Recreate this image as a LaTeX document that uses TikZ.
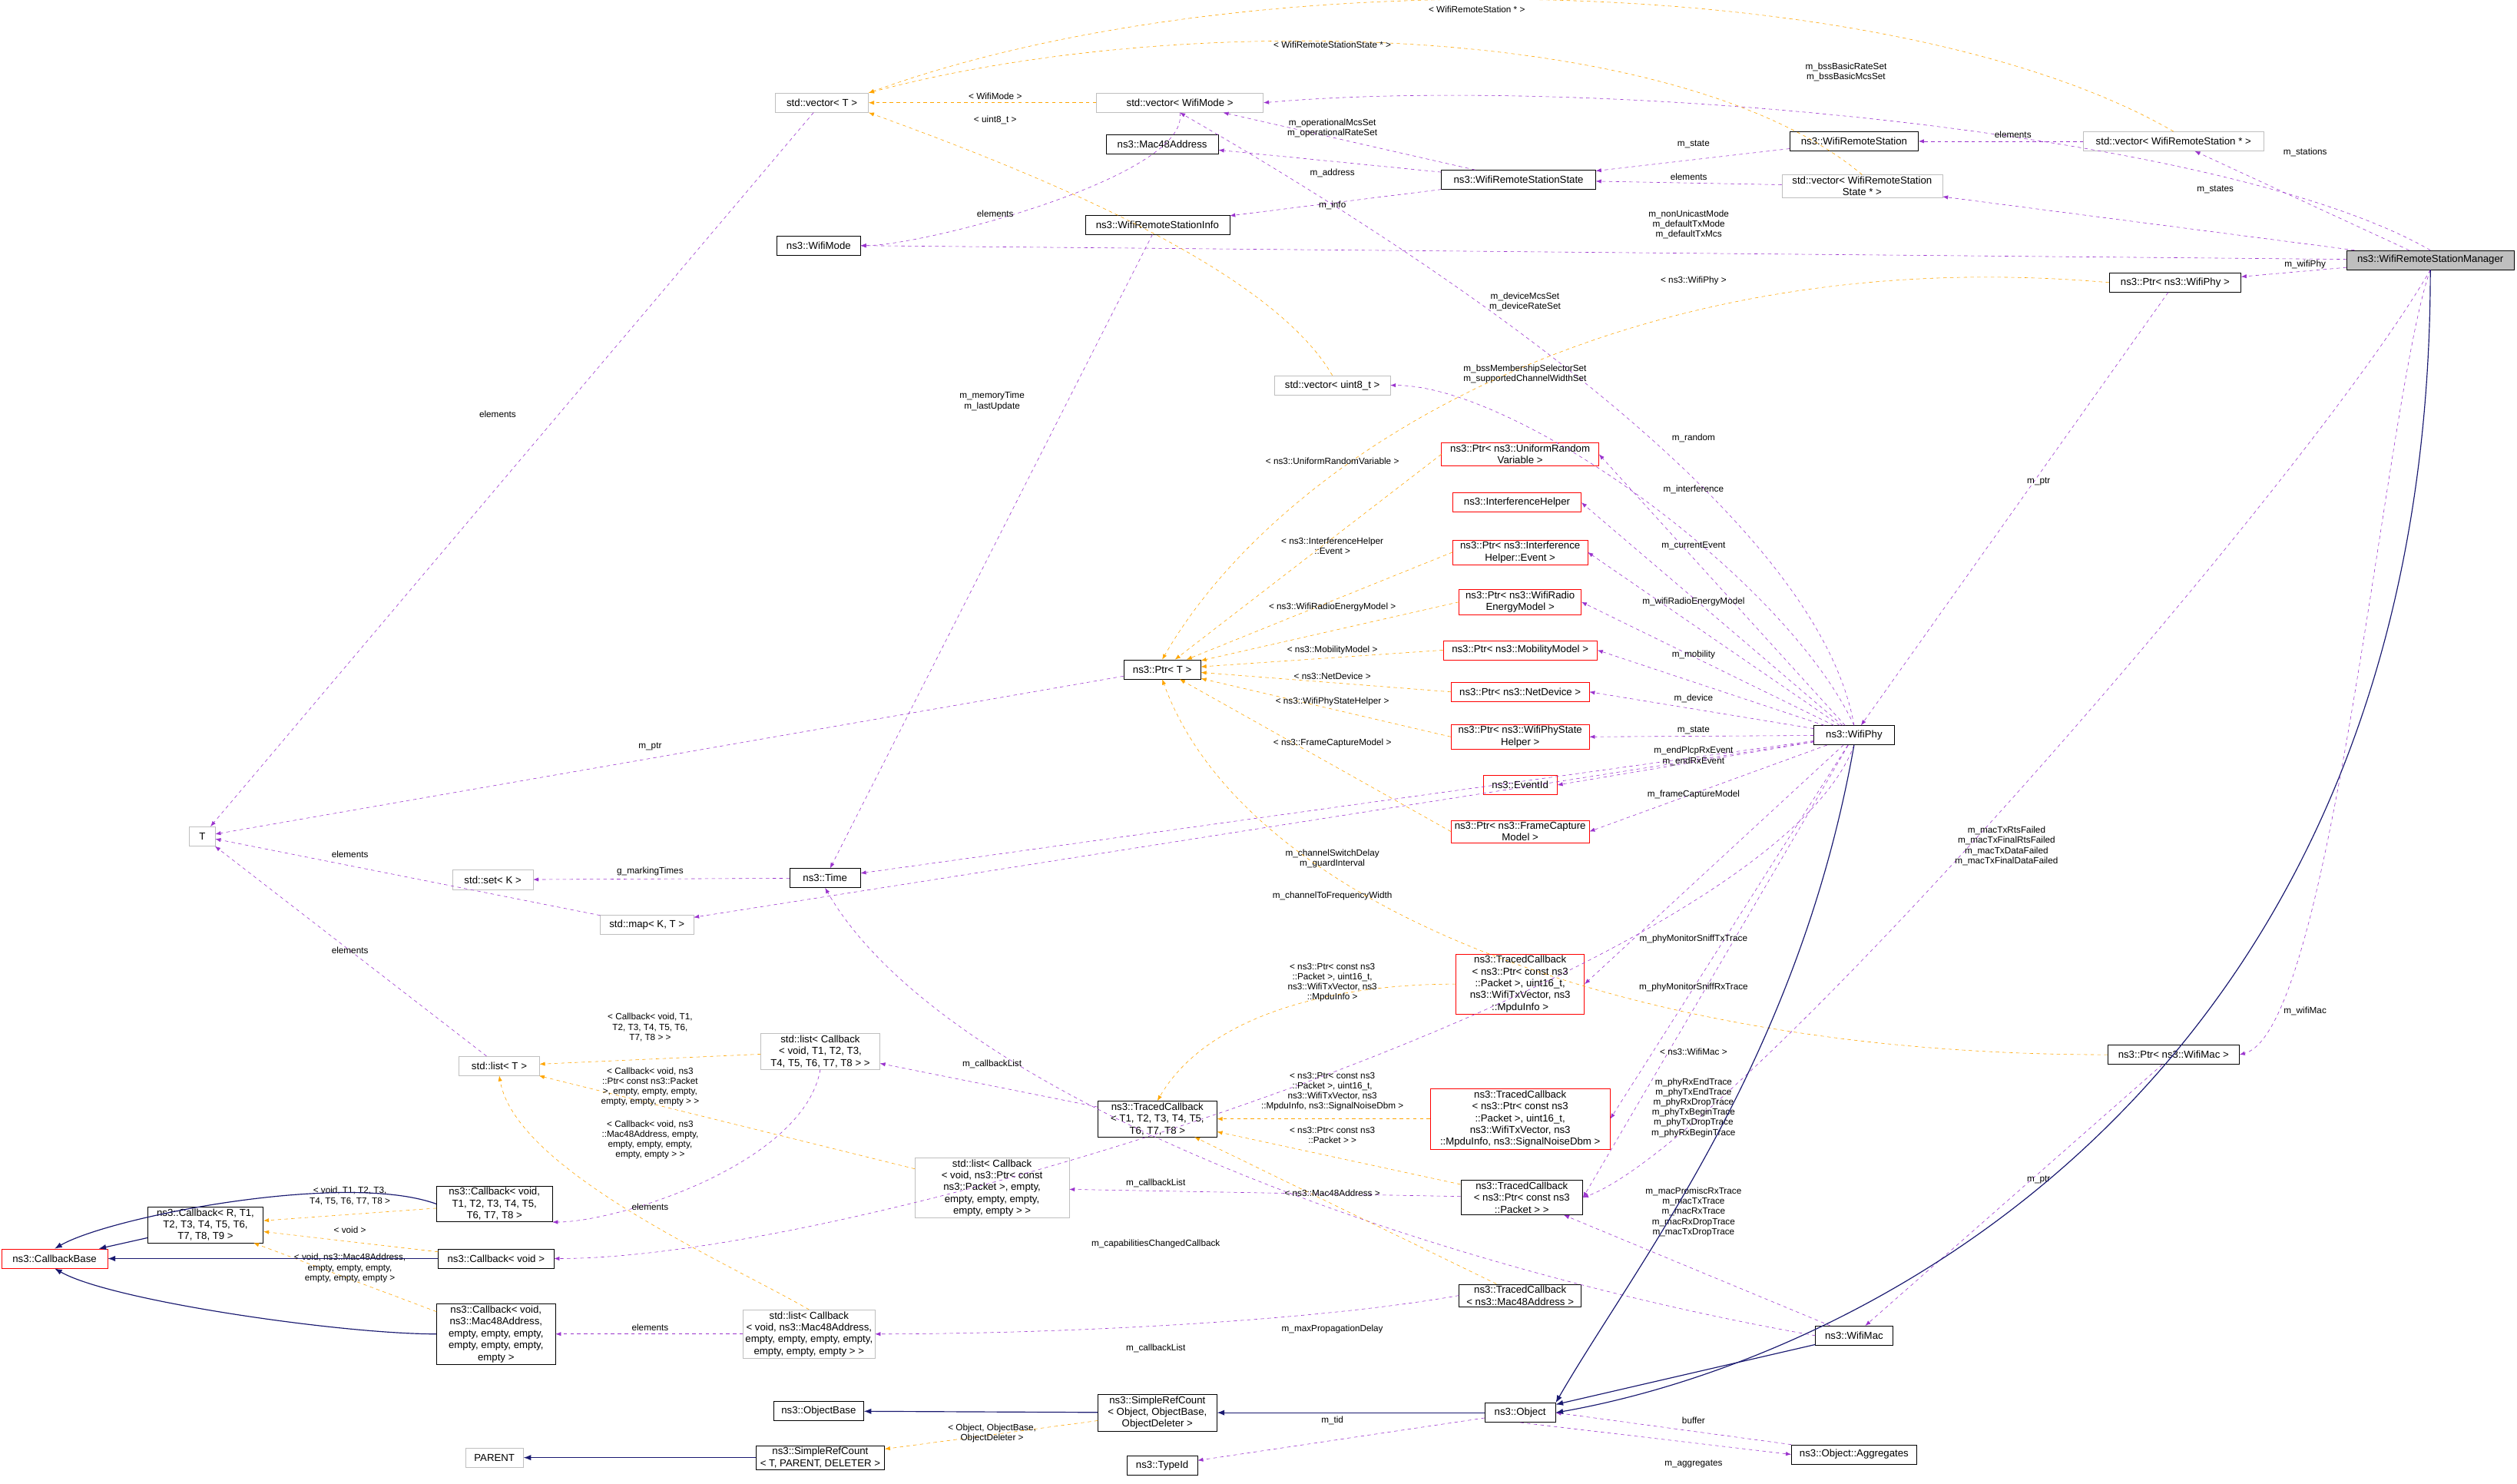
\documentclass[tikz,border=0pt]{standalone}
\usepackage{fontspec}
\setmainfont{Liberation Sans}
\usetikzlibrary{arrows.meta}
\definecolor{usecol}{RGB}{154,50,205}
\definecolor{tplcol}{RGB}{255,165,0}
\definecolor{inhcol}{RGB}{25,25,112}
\definecolor{extcol}{RGB}{191,191,191}
\begin{document}
\begin{tikzpicture}[x=0.5mm, y=-0.5mm, >=Latex, font=\fontsize{9}{10.5}\selectfont,
    box/.style={draw, align=center, inner sep=1.5pt, minimum height=6mm},
    cls/.style={box, draw=black},
    ext/.style={box, draw=extcol},
    bad/.style={box, draw=red},
    self/.style={box, draw=black, fill=extcol},
    use/.style={->, dashed, usecol},
    tpl/.style={->, dashed, tplcol},
    inh/.style={->, inhcol, thick},
    lbl/.style={align=center, inner sep=0.5pt, font=\fontsize{8}{9}\selectfont}]
    \useasboundingbox (0,0) rectangle (1568,924);

    % classes
    \node[self, minimum width=52mm] (mgr) at (1514,162) {ns3::WifiRemoteStationManager};
    \node[ext, minimum width=29mm] (vecT) at (512,64) {std::vector< T >};
    \node[ext, minimum width=52mm] (vecMode) at (735,64) {std::vector< WifiMode >};
    \node[cls, minimum width=35mm] (mac48) at (724,90) {ns3::Mac48Address};
    \node[cls, minimum width=40mm] (rss) at (1155,88) {ns3::WifiRemoteStation};
    \node[ext, minimum width=56mm] (vecRS) at (1354,88) {std::vector< WifiRemoteStation * >};
    \node[cls, minimum width=48mm] (rsstate) at (946,112) {ns3::WifiRemoteStationState};
    \node[ext, minimum width=50mm] (vecRSS) at (1160,116) {std::vector< WifiRemoteStation\\State * >};
    \node[cls, minimum width=45mm] (rsinfo) at (721,140) {ns3::WifiRemoteStationInfo};
    \node[cls, minimum width=26mm] (wifimode) at (510,153) {ns3::WifiMode};
    \node[cls, minimum width=41mm] (ptrPhy) at (1355,176) {ns3::Ptr< ns3::WifiPhy >};
    \node[ext, minimum width=36mm] (vecU8) at (830,240) {std::vector< uint8\_t >};
    \node[bad, minimum width=49mm] (ptrURV) at (947,283) {ns3::Ptr< ns3::UniformRandom\\Variable >};
    \node[bad, minimum width=40mm] (intHelper) at (945,313) {ns3::InterferenceHelper};
    \node[bad, minimum width=42mm] (ptrEvent) at (947,344) {ns3::Ptr< ns3::Interference\\Helper::Event >};
    \node[bad, minimum width=38mm] (ptrEnergy) at (947,375) {ns3::Ptr< ns3::WifiRadio\\EnergyModel >};
    \node[bad, minimum width=48mm] (ptrMob) at (947,405) {ns3::Ptr< ns3::MobilityModel >};
    \node[bad, minimum width=43mm] (ptrNet) at (947,431) {ns3::Ptr< ns3::NetDevice >};
    \node[bad, minimum width=43mm] (ptrState) at (947,459) {ns3::Ptr< ns3::WifiPhyState\\Helper >};
    \node[bad, minimum width=23mm] (eventid) at (947,489) {ns3::EventId};
    \node[bad, minimum width=43mm] (ptrFCM) at (947,518) {ns3::Ptr< ns3::FrameCapture\\Model >};
    \node[cls, minimum width=24mm] (ptrT) at (724,417) {ns3::Ptr< T >};
    \node[cls, minimum width=25mm] (wifiphy) at (1155,458) {ns3::WifiPhy};
    \node[ext, minimum width=8mm] (T) at (126,521) {T};
    \node[ext, minimum width=25mm] (setK) at (307,548) {std::set< K >};
    \node[cls, minimum width=22mm] (time) at (514,547) {ns3::Time};
    \node[ext, minimum width=29mm] (mapKT) at (403,576) {std::map< K, T >};
    \node[bad, minimum width=40mm] (tcPhyTx) at (947,613) {ns3::TracedCallback\\< ns3::Ptr< const ns3\\::Packet >, uint16\_t,\\ns3::WifiTxVector, ns3\\::MpduInfo >};
    \node[bad, minimum width=56mm] (tcPhyRx) at (947,697) {ns3::TracedCallback\\< ns3::Ptr< const ns3\\::Packet >, uint16\_t,\\ns3::WifiTxVector, ns3\\::MpduInfo, ns3::SignalNoiseDbm >};
    \node[ext, minimum width=25mm] (listT) at (311,664) {std::list< T >};
    \node[ext, minimum width=37mm] (listCb1) at (511,655) {std::list< Callback\\< void, T1, T2, T3,\\T4, T5, T6, T7, T8 > >};
    \node[cls, minimum width=37mm] (tcT) at (721,697) {ns3::TracedCallback\\< T1, T2, T3, T4, T5,\\T6, T7, T8 >};
    \node[ext, minimum width=48mm] (listCb2) at (618,740) {std::list< Callback\\< void, ns3::Ptr< const\\ns3::Packet >, empty,\\empty, empty, empty,\\empty, empty > >};
    \node[cls, minimum width=38mm] (tcPkt) at (948,746) {ns3::TracedCallback\\< ns3::Ptr< const ns3\\::Packet > >};
    \node[cls, minimum width=36mm] (cbVoidT) at (308,750) {ns3::Callback< void,\\T1, T2, T3, T4, T5,\\T6, T7, T8 >};
    \node[cls, minimum width=36mm] (cbR) at (128,763) {ns3::Callback< R, T1,\\T2, T3, T4, T5, T6,\\T7, T8, T9 >};
    \node[bad, minimum width=33mm] (cbBase) at (34,784) {ns3::CallbackBase};
    \node[cls, minimum width=36mm] (cbVoid) at (309,784) {ns3::Callback< void >};
    \node[cls, minimum width=37mm] (cbMac) at (309,831) {ns3::Callback< void,\\ns3::Mac48Address,\\empty, empty, empty,\\empty, empty, empty,\\empty >};
    \node[ext, minimum width=41mm] (listCb3) at (504,831) {std::list< Callback\\< void, ns3::Mac48Address,\\empty, empty, empty, empty,\\empty, empty, empty > >};
    \node[cls, minimum width=38mm] (tcMac) at (947,807) {ns3::TracedCallback\\< ns3::Mac48Address >};
    \node[cls, minimum width=24mm] (wifimac) at (1155,832) {ns3::WifiMac};
    \node[cls, minimum width=41mm] (ptrMac) at (1354,657) {ns3::Ptr< ns3::WifiMac >};
    \node[cls, minimum width=28mm] (objBase) at (510,879) {ns3::ObjectBase};
    \node[cls, minimum width=37mm] (srcObj) at (721,880) {ns3::SimpleRefCount\\< Object, ObjectBase,\\ObjectDeleter >};
    \node[cls, minimum width=22mm] (object) at (947,880) {ns3::Object};
    \node[cls, minimum width=39mm] (aggr) at (1155,906) {ns3::Object::Aggregates};
    \node[ext, minimum width=18mm] (parent) at (308,908) {PARENT};
    \node[cls, minimum width=40mm] (srcT) at (511,908) {ns3::SimpleRefCount\\< T, PARENT, DELETER >};
    \node[cls, minimum width=22mm] (typeid) at (724,913) {ns3::TypeId};

    % members
    \draw[use] (mgr) -- (vecRS);
    \draw[use] (mgr) -- (vecRSS);
    \draw[use] (mgr) -- (wifimode.east);
    \draw[use] (mgr.north) .. controls +(-150:150) and +(-5:200) .. (vecMode.east);
    \draw[use] (mgr) -- (ptrPhy);
    \draw[use] (mgr.south) .. controls +(110:80) and +(-15:60) .. (ptrMac.east);
    \draw[use] (mgr.south) .. controls +(120:150) and +(-20:100) .. (tcPkt.east);
    \draw[use] (vecRS) -- (rss);
    \draw[use] (vecRSS) -- (rsstate);
    \draw[use] (rss) -- (rsstate);
    \draw[use] (rsstate) -- (vecMode);
    \draw[use] (rsstate) -- (mac48);
    \draw[use] (rsstate) -- (rsinfo);
    \draw[use] (vecMode.south) .. controls +(80:40) and +(0:40) .. (wifimode.east);
    \draw[use] (vecT) -- (T);
    \draw[use] (rsinfo) -- (time);
    \draw[use] (ptrPhy) -- (wifiphy);
    \draw[use] (wifiphy.north) .. controls +(-100:150) and +(30:120) .. (vecMode.south);
    \draw[use] (wifiphy.north) .. controls +(-115:100) and +(0:80) .. (vecU8.east);
    \foreach \m in {ptrURV, intHelper, ptrEvent, ptrEnergy, ptrMob, ptrNet, ptrState, eventid, ptrFCM, tcPhyTx, tcPhyRx, tcPkt}
        \draw[use] (wifiphy) -- (\m.east);
    \draw[use] (wifiphy) -- (time);
    \draw[use] (wifiphy) -- (mapKT);
    \draw[use] (wifiphy.south) .. controls +(110:150) and +(0:200) .. (cbVoid.east);
    \draw[use] (wifimac) -- (tcPkt);
    \draw[use] (wifimac.west) .. controls +(-170:250) and +(60:150) .. (time.south);
    \draw[use] (ptrMac) -- (wifimac);
    \draw[use] (ptrT) -- (T);
    \draw[use] (time) -- (setK);
    \draw[use] (mapKT) -- (T);
    \draw[use] (listT) -- (T);
    \draw[use] (listCb1.south) .. controls +(100:60) and +(0:40) .. (cbVoidT.south east);
    \draw[use] (tcT) -- (listCb1);
    \draw[use] (tcPkt) -- (listCb2);
    \draw[use] (tcMac.west) .. controls +(170:100) and +(0:100) .. (listCb3.east);
    \draw[use] (listCb3) -- (cbMac);
    \draw[use] (object) -- (typeid);
    \draw[use] (object.south) -- (aggr.west);
    \draw[use] (aggr.north west) -- (object.east);
    \node[lbl] at (1436,95) {m\_stations};
    \node[lbl] at (1380,118) {m\_states};
    \node[lbl] at (1052,140) {m\_nonUnicastMode\\m\_defaultTxMode\\m\_defaultTxMcs};
    \node[lbl] at (1150,45) {m\_bssBasicRateSet\\m\_bssBasicMcsSet};
    \node[lbl] at (1436,165) {m\_wifiPhy};
    \node[lbl] at (1436,630) {m\_wifiMac};
    \node[lbl] at (1250,527) {m\_macTxRtsFailed\\m\_macTxFinalRtsFailed\\m\_macTxDataFailed\\m\_macTxFinalDataFailed};
    \node[lbl] at (1254,84) {elements};
    \node[lbl] at (1052,110) {elements};
    \node[lbl] at (1055,90) {m\_state};
    \node[lbl] at (830,80) {m\_operationalMcsSet\\m\_operationalRateSet};
    \node[lbl] at (830,108) {m\_address};
    \node[lbl] at (830,128) {m\_info};
    \node[lbl] at (620,133) {elements};
    \node[lbl] at (310,258) {elements};
    \node[lbl] at (618,250) {m\_memoryTime\\m\_lastUpdate};
    \node[lbl] at (1270,300) {m\_ptr};
    \node[lbl] at (950,188) {m\_deviceMcsSet\\m\_deviceRateSet};
    \node[lbl] at (950,233) {m\_bssMembershipSelectorSet\\m\_supportedChannelWidthSet};
    \node[lbl] at (1055,273) {m\_random};
    \node[lbl] at (1055,305) {m\_interference};
    \node[lbl] at (1055,340) {m\_currentEvent};
    \node[lbl] at (1055,375) {m\_wifiRadioEnergyModel};
    \node[lbl] at (1055,408) {m\_mobility};
    \node[lbl] at (1055,435) {m\_device};
    \node[lbl] at (1055,455) {m\_state};
    \node[lbl] at (1055,471) {m\_endPlcpRxEvent\\m\_endRxEvent};
    \node[lbl] at (1055,495) {m\_frameCaptureModel};
    \node[lbl] at (830,535) {m\_channelSwitchDelay\\m\_guardInterval};
    \node[lbl] at (830,558) {m\_channelToFrequencyWidth};
    \node[lbl] at (1055,585) {m\_phyMonitorSniffTxTrace};
    \node[lbl] at (1055,615) {m\_phyMonitorSniffRxTrace};
    \node[lbl] at (1055,690) {m\_phyRxEndTrace\\m\_phyTxEndTrace\\m\_phyRxDropTrace\\m\_phyTxBeginTrace\\m\_phyTxDropTrace\\m\_phyRxBeginTrace};
    \node[lbl] at (720,775) {m\_capabilitiesChangedCallback};
    \node[lbl] at (1055,755) {m\_macPromiscRxTrace\\m\_macTxTrace\\m\_macRxTrace\\m\_macRxDropTrace\\m\_macTxDropTrace};
    \node[lbl] at (830,828) {m\_maxPropagationDelay};
    \node[lbl] at (1270,735) {m\_ptr};
    \node[lbl] at (405,465) {m\_ptr};
    \node[lbl] at (405,543) {g\_markingTimes};
    \node[lbl] at (218,532) {elements};
    \node[lbl] at (218,592) {elements};
    \node[lbl] at (405,752) {elements};
    \node[lbl] at (618,663) {m\_callbackList};
    \node[lbl] at (720,737) {m\_callbackList};
    \node[lbl] at (720,840) {m\_callbackList};
    \node[lbl] at (405,827) {elements};
    \node[lbl] at (830,885) {m\_tid};
    \node[lbl] at (1055,912) {m\_aggregates};
    \node[lbl] at (1055,885) {buffer};

    % template instances
    \draw[tpl] (vecMode) -- (vecT);
    \draw[tpl] (vecRS.north) .. controls +(-150:200) and +(-20:250) .. (vecT.north east);
    \draw[tpl] (vecRSS.north) .. controls +(-140:150) and +(-15:200) .. (vecT.north east);
    \draw[tpl] (vecU8.north) .. controls +(-120:80) and +(20:100) .. (vecT.south east);
    \draw[tpl] (ptrPhy.west) .. controls +(-175:300) and +(-60:150) .. (ptrT.north);
    \foreach \m in {ptrURV, ptrEvent, ptrEnergy, ptrMob, ptrNet, ptrState, ptrFCM}
        \draw[tpl] (\m.west) -- (ptrT);
    \draw[tpl] (ptrMac.west) .. controls +(180:300) and +(70:150) .. (ptrT.south);
    \draw[tpl] (tcPhyTx.west) .. controls +(180:80) and +(-60:60) .. (tcT.north);
    \draw[tpl] (tcPhyRx) -- (tcT);
    \draw[tpl] (tcPkt) -- (tcT);
    \draw[tpl] (tcMac) -- (tcT);
    \draw[tpl] (listCb1) -- (listT);
    \draw[tpl] (listCb2) -- (listT);
    \draw[tpl] (listCb3.north) .. controls +(-150:60) and +(80:60) .. (listT.south);
    \draw[tpl] (cbVoidT) -- (cbR);
    \draw[tpl] (cbVoid) -- (cbR);
    \draw[tpl] (cbMac) -- (cbR);
    \draw[tpl] (srcObj) -- (srcT);
    \node[lbl] at (620,60) {< WifiMode >};
    \node[lbl] at (920,6) {< WifiRemoteStation * >};
    \node[lbl] at (830,28) {< WifiRemoteStationState * >};
    \node[lbl] at (620,75) {< uint8\_t >};
    \node[lbl] at (1055,175) {< ns3::WifiPhy >};
    \node[lbl] at (830,287) {< ns3::UniformRandomVariable >};
    \node[lbl] at (830,340) {< ns3::InterferenceHelper\\::Event >};
    \node[lbl] at (830,378) {< ns3::WifiRadioEnergyModel >};
    \node[lbl] at (830,405) {< ns3::MobilityModel >};
    \node[lbl] at (830,421) {< ns3::NetDevice >};
    \node[lbl] at (830,437) {< ns3::WifiPhyStateHelper >};
    \node[lbl] at (830,463) {< ns3::FrameCaptureModel >};
    \node[lbl] at (1055,655) {< ns3::WifiMac >};
    \node[lbl] at (830,612) {< ns3::Ptr< const ns3\\::Packet >, uint16\_t,\\ns3::WifiTxVector, ns3\\::MpduInfo >};
    \node[lbl] at (830,680) {< ns3::Ptr< const ns3\\::Packet >, uint16\_t,\\ns3::WifiTxVector, ns3\\::MpduInfo, ns3::SignalNoiseDbm >};
    \node[lbl] at (830,707) {< ns3::Ptr< const ns3\\::Packet > >};
    \node[lbl] at (830,743) {< ns3::Mac48Address >};
    \node[lbl] at (405,640) {< Callback< void, T1,\\T2, T3, T4, T5, T6,\\T7, T8 > >};
    \node[lbl] at (405,677) {< Callback< void, ns3\\::Ptr< const ns3::Packet\\>, empty, empty, empty,\\empty, empty, empty > >};
    \node[lbl] at (405,710) {< Callback< void, ns3\\::Mac48Address, empty,\\empty, empty, empty,\\empty, empty > >};
    \node[lbl] at (218,745) {< void, T1, T2, T3,\\T4, T5, T6, T7, T8 >};
    \node[lbl] at (218,766) {< void >};
    \node[lbl] at (218,790) {< void, ns3::Mac48Address,\\empty, empty, empty,\\empty, empty, empty >};
    \node[lbl] at (618,893) {< Object, ObjectBase,\\ObjectDeleter >};

    % inheritance
    \draw[inh] (cbR) -- (cbBase);
    \draw[inh] (cbVoid) -- (cbBase);
    \draw[inh] (cbMac.west) .. controls +(180:60) and +(30:40) .. (cbBase.south);
    \draw[inh] (cbVoidT.west) .. controls +(-160:60) and +(-30:40) .. (cbBase.north);
    \draw[inh] (srcObj) -- (objBase);
    \draw[inh] (object) -- (srcObj);
    \draw[inh] (wifiphy.south) .. controls +(100:200) and +(-60:100) .. (object.north east);
    \draw[inh] (wifimac) -- (object);
    \draw[inh] (mgr.south) .. controls +(90:500) and +(-10:200) .. (object.east);
    \draw[inh] (srcT) -- (parent);
\end{tikzpicture}
\end{document}
